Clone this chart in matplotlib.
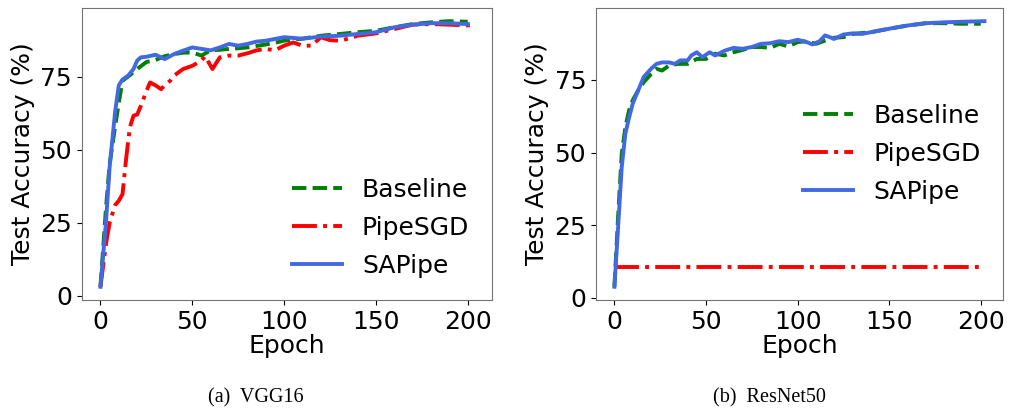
import matplotlib.pyplot as plt

# VGG16 curves (epoch, test accuracy %)
vgg_base_x = [0, 3, 5, 8, 10, 12, 15, 18, 20, 25, 30, 35, 40, 45, 50, 55, 60, 65, 70, 75, 80, 85, 90,
              95, 100, 110, 120, 130, 140, 150, 160, 170, 180, 190, 200]
vgg_base_y = [3, 30, 45, 58, 66, 73.6, 75, 76.5, 77.6, 80, 80.7, 82, 82.7, 83.2, 83.3, 82.2, 84, 84.2, 84.5,
              84.7, 85, 85.5, 86, 86.6, 87.3, 88, 89, 89.6, 90.2, 90.7, 91.9, 93, 93.6, 94, 93.8]

vgg_sap_x = [0, 3, 5, 8, 10, 12, 15, 18, 20, 22, 25, 30, 35, 40, 45, 50, 55, 60, 65, 70, 75, 80, 85, 90,
             100, 110, 120, 130, 140, 150, 160, 170, 180, 190, 200]
vgg_sap_y = [3, 25, 44, 63, 72, 74, 75.3, 77.6, 80.5, 81.6, 81.8, 82.5, 81, 82.7, 83.9, 85, 84.5, 84, 85,
             86.2, 85.6, 86.2, 87, 87.3, 88.5, 88, 88.7, 89, 89.6, 90.2, 91.9, 92.8, 93.3, 93.3, 93]

vgg_pipe_x = [0, 3, 5, 8, 10, 12, 14, 16, 18, 20, 22, 25, 27, 30, 33, 35, 38, 40, 45, 50, 55, 57, 60, 61,
              65, 70, 75, 80, 85, 90, 95, 100, 105, 110, 115, 120, 125, 130, 135, 140, 150, 160, 170,
              180, 190, 203]
vgg_pipe_y = [3, 17.6, 25, 31, 32.5, 34.7, 47, 57.6, 61.6, 62, 65, 70, 73, 72, 70.7, 72, 73.6, 75.3, 77.6,
              78.7, 80.5, 82, 78.7, 77.6, 81.6, 82.2, 82.2, 83, 84, 84.5, 84, 85.6, 86.7, 85.6, 85.6,
              88.5, 87.5, 87.3, 88, 89, 89.8, 91.3, 92.8, 93, 92.8, 92.5]

# ResNet50 curves
res_base_x = [0, 2, 4, 6, 8, 10, 13, 16, 20, 23, 26, 30, 35, 40, 45, 50, 55, 60, 65, 70, 75, 80, 85, 90,
              95, 100, 105, 110, 115, 120, 125, 130, 140, 150, 160, 170, 180, 190, 200]
res_base_y = [3.8, 27.8, 49.6, 58.8, 64.5, 68, 71.4, 74.2, 77, 78.8, 78.2, 80, 80.5, 80.5, 82.2, 82.2, 84,
              83.4, 84.5, 85.3, 86.3, 86.3, 86, 87.4, 86.5, 88, 88.3, 87.4, 88.5, 89.5, 89.7, 90.8,
              91.4, 92.6, 93.7, 94.5, 94.5, 94.3, 94.3]

res_sap_x = [0, 2, 4, 6, 8, 10, 13, 16, 20, 23, 26, 30, 33, 36, 40, 42, 45, 48, 52, 55, 60, 65, 70, 75,
             80, 85, 90, 95, 100, 105, 108, 112, 115, 120, 125, 130, 135, 140, 150, 160, 170, 180,
             190, 202]
res_sap_y = [3.8, 24, 45, 56.5, 62, 66.8, 71.4, 76, 78.8, 80.5, 81, 81, 80.5, 81.7, 81.7, 83.4, 84.5, 82.8,
             84.5, 83.4, 85, 86, 85.7, 86.3, 87.4, 87.6, 88.3, 88, 88.8, 88, 87.2, 88.3, 90.3, 89.1,
             90.6, 91, 90.8, 91.4, 92.6, 93.7, 94.5, 94.8, 95, 95.2]

res_pipe_x = [0, 200]
res_pipe_y = [10.6, 10.6]

yticks = [0, 25, 50, 75]
xticks = [0, 50, 100, 150, 200]

fig = plt.figure(figsize=(10.1, 4.15), dpi=100)
ax1 = fig.add_axes([0.081, 0.277, 0.406, 0.704])
ax2 = fig.add_axes([0.590, 0.277, 0.403, 0.704])

panels = [
    (ax1, (vgg_base_x, vgg_base_y), (vgg_pipe_x, vgg_pipe_y), (vgg_sap_x, vgg_sap_y), 'lower right'),
    (ax2, (res_base_x, res_base_y), (res_pipe_x, res_pipe_y), (res_sap_x, res_sap_y), 'center right'),
]

for ax, base, pipe, sap, loc in panels:
    ax.plot(base[0], base[1], '--', color='green', lw=2.8, label='Baseline')
    ax.plot(pipe[0], pipe[1], '-.', color='red', lw=2.8, label='PipeSGD')
    ax.plot(sap[0], sap[1], '-', color='royalblue', lw=2.8, label='SAPipe')
    ax.set_xticks(xticks)
    ax.set_yticks(yticks)
    ax.tick_params(labelsize=18)
    ax.set_xlabel('Epoch', fontsize=18, labelpad=0)
    ax.set_ylabel('Test Accuracy (%)', fontsize=18)
    for s in ax.spines.values():
        s.set_color('0.45')
    ax.legend(loc=loc, fontsize=18, frameon=False, labelspacing=0.55)

fig.text(0.253, 0.03, '(a)  VGG16', fontsize=14.5, family='Liberation Serif', ha='center')
fig.text(0.762, 0.03, '(b)  ResNet50', fontsize=14.5, family='Liberation Serif', ha='center')

fig.savefig('out.png', dpi=100)
